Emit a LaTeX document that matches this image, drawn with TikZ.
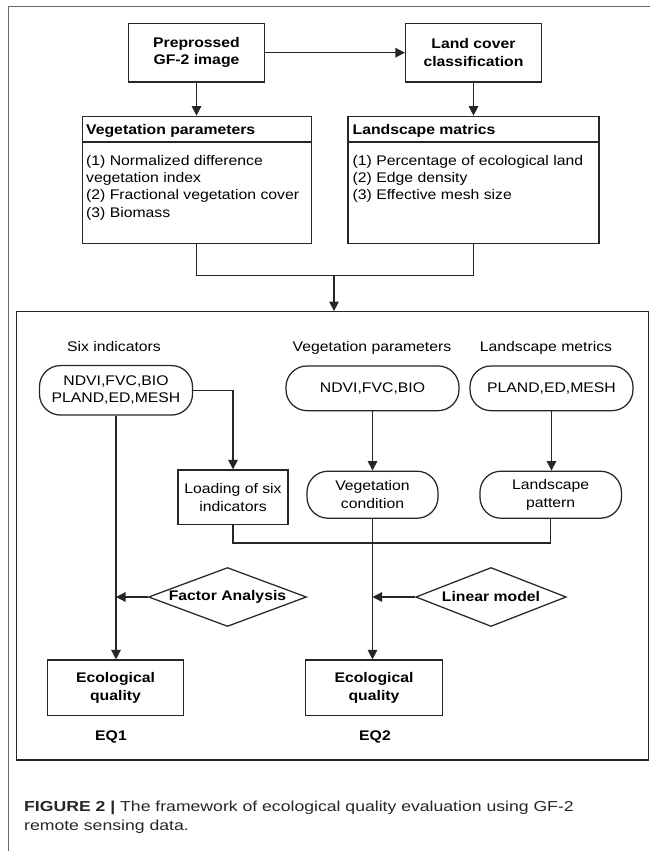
\documentclass[tikz,border=0pt]{standalone}
\usepackage{fontspec}
\setmainfont{Liberation Sans}[FakeStretch=1.13]
\newfontfamily\capfont{Liberation Sans}[FakeStretch=1.22]
\usetikzlibrary{arrows.meta,shapes.geometric}
\newcommand\fs{\fontsize{14}{17.5}\selectfont}
\begin{document}
\begin{tikzpicture}[x=1bp,y=-1bp,
  ln/.style={line width=1.25bp, draw=black!85},
  arr/.style={ln, -{Triangle[length=9.5bp,width=9.5bp]}},
  box/.style={draw=black!85, line width=1.25bp, inner sep=0pt, align=center, font=\fs},
  rnd/.style={box, rounded corners=21bp},
  dia/.style={box, diamond, aspect=2.67, font=\fs\bfseries},
  lbl/.style={anchor=base, inner sep=0pt, font=\fs}]
\fill[white] (0,0) rectangle (650,851);
\useasboundingbox (0,0) rectangle (650,851);
\draw[line width=1bp, draw=black!60] (8,851) -- (8,6.7) -- (650,6.7);

% top part
\node[box, font=\fs\bfseries, minimum width=136bp, minimum height=58.7bp] (pre) at (196.5,52.7) {Preprossed\\GF-2 image};
\node[box, font=\fs\bfseries, minimum width=136bp, minimum height=58.7bp] (lc) at (473.5,52.7) {Land cover\\classification};
\node[box, minimum width=229bp, minimum height=127bp] (vp) at (196.8,179.8) {};
\node[box, minimum width=251bp, minimum height=127bp] (lm) at (473.5,179.8) {};
\draw[ln] ([yshift=-26.4bp]vp.north west) -- ([yshift=-26.4bp]vp.north east);
\draw[ln] ([yshift=-26.4bp]lm.north west) -- ([yshift=-26.4bp]lm.north east);
\node[anchor=base west, inner sep=0pt, font=\fs\bfseries] (vph) at (86,134.3) {Vegetation parameters};
\node[anchor=base west, inner sep=0pt, font=\fs\bfseries] (lmh) at (352.5,134.3) {Landscape matrics};
\node[anchor=north west, align=left, inner sep=0pt, font=\fs] (vpb) at (86,154.8) {(1) Normalized difference\\vegetation index\\(2) Fractional vegetation cover\\(3) Biomass};
\node[anchor=north west, align=left, inner sep=0pt, font=\fs] (lmb) at (352.5,154.8) {(1) Percentage of ecological land\\(2) Edge density\\(3) Effective mesh size};

\draw[arr] (pre) -- (lc);
\draw[arr] (pre.south) -- (pre.south |- vp.north);
\draw[arr] (lc.south) -- (lc.south |- lm.north);
\draw[ln] (vp.south) -- ++(0,31.7) -| (lm.south);
\coordinate (j) at (334,275);

% inner frame
\node[draw=black!85, line width=1.25bp, inner sep=0pt, minimum width=632bp, minimum height=448.3bp] (inner) at (332.6,535.9) {};
\draw[arr] (j) -- (j |- inner.north);

\node[lbl] (l1) at (114,351.5) {Six indicators};
\node[lbl] (l2) at (372,351.5) {Vegetation parameters};
\node[lbl] (l3) at (546,351.5) {Landscape metrics};

\node[rnd, minimum width=153bp, minimum height=49.5bp] (n1) at (116,390.3) {NDVI,FVC,BIO\\PLAND,ED,MESH};
\node[rnd, minimum width=173bp, minimum height=44.7bp] (n2) at (372.5,388.3) {NDVI,FVC,BIO};
\node[rnd, minimum width=163bp, minimum height=44.7bp] (n3) at (551.5,388.3) {PLAND,ED,MESH};
\node[box, minimum width=110bp, minimum height=54.7bp] (load) at (233,497.3) {Loading of six\\indicators};
\node[rnd, minimum width=131bp, minimum height=47bp] (vc) at (372.5,494.7) {Vegetation\\condition};
\node[rnd, minimum width=141.5bp, minimum height=47bp] (lp) at (550.7,494.7) {Landscape\\pattern};

\draw[arr] (n1.east) -| (load.north);
\draw[arr] (n2.south) -- (n2.south |- vc.north);
\draw[arr] (n3.south) -- (n3.south |- lp.north);
\draw[ln] (load.south) -- ++(0,17.6) -| (lp.south);

\node[dia, minimum width=158bp, minimum height=59bp] (fa) at (227.5,597) {Factor Analysis};
\node[dia, minimum width=150.5bp, minimum height=59bp] (lmod) at (491,597) {Linear model};

\node[box, font=\fs\bfseries, minimum width=136.5bp, minimum height=55.3bp] (eq1) at (115.5,687.7) {Ecological\\quality};
\node[box, font=\fs\bfseries, minimum width=137bp, minimum height=55.3bp] (eq2) at (374,687.7) {Ecological\\quality};

\draw[arr] (n1.south) -- (n1.south |- eq1.north);
\draw[arr] (vc.south) -- (vc.south |- eq2.north);
\draw[arr] (fa.west) -- (fa.west -| n1.south);
\draw[arr] (lmod.west) -- (lmod.west -| vc.south);

\node[lbl, font=\fs\bfseries] (e1) at (111,740.7) {EQ1};
\node[lbl, font=\fs\bfseries] (e2) at (375,740.7) {EQ2};

% caption
\node[anchor=base west, inner sep=0pt, text=black!85, font=\capfont\fontsize{14.5}{17}\selectfont] (cap1) at (24,811) {\textbf{FIGURE 2 |} The framework of ecological quality evaluation using GF-2};
\node[anchor=base west, inner sep=0pt, text=black!85, font=\capfont\fontsize{14.5}{17}\selectfont] (cap2) at (24,830) {remote sensing data.};
\end{tikzpicture}
\end{document}
